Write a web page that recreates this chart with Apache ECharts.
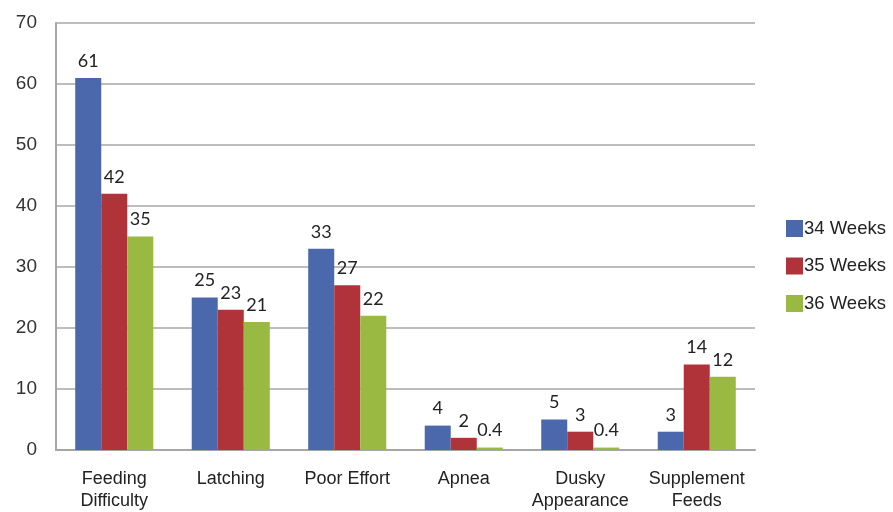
<!DOCTYPE html>
<html>
<head>
<meta charset="utf-8">
<script src="https://cdn.jsdelivr.net/npm/echarts@6/dist/echarts.min.js"></script>
<style>
  html, body { margin: 0; padding: 0; background: #fff; }
  #chart { width: 893px; height: 512px; }
</style>
</head>
<body>
<div id="chart"></div>
<script>
// Feeding problems by gestational age at birth
const categories = ['Feeding\nDifficulty', 'Latching', 'Poor Effort', 'Apnea', 'Dusky\nAppearance', 'Supplement\nFeeds'];
const seriesNames = ['34 Weeks', '35 Weeks', '36 Weeks'];
const weeks34 = [61, 25, 33, 4, 5, 3];
const weeks35 = [42, 23, 27, 2, 3, 14];
const weeks36 = [35, 21, 22, 0.4, 0.4, 12];
const colors = ['#4B68AD', '#AF3338', '#9AB943'];

const font = 'Liberation Sans, Arial, sans-serif';
const numFont = 'Lato, sans-serif';

const chart = echarts.init(document.getElementById('chart'));
chart.setOption({
  animation: false,
  backgroundColor: '#fff',
  grid: { left: 56, right: 138, top: 23, bottom: 62 },
  legend: {
    orient: 'vertical',
    left: 781,
    top: 214,
    itemWidth: 17,
    itemHeight: 17,
    itemGap: 18.5,
    icon: 'rect',
    textStyle: { fontFamily: font, fontSize: 18.5, color: '#222', padding: [0, 0, 0, -4] },
    data: seriesNames
  },
  xAxis: {
    type: 'category',
    data: categories,
    axisLine: { lineStyle: { color: '#A6A6A6', width: 2 } },
    axisTick: { show: false },
    axisLabel: { interval: 0, fontFamily: font, fontSize: 18, color: '#222', margin: 18, lineHeight: 22 }
  },
  yAxis: {
    type: 'value',
    min: 0,
    max: 70,
    interval: 10,
    axisLine: { show: true, lineStyle: { color: '#A6A6A6', width: 2 } },
    axisTick: { show: false },
    splitLine: { lineStyle: { color: '#BDBDBD', width: 2 } },
    axisLabel: { fontFamily: font, fontSize: 19, color: '#333', margin: 19 }
  },
  series: [weeks34, weeks35, weeks36].map((vals, i) => ({
    name: seriesNames[i],
    type: 'bar',
    data: vals,
    barGap: '0%',
    barCategoryGap: '33%',
    itemStyle: { color: colors[i] },
    label: {
      show: true,
      position: 'top',
      distance: 8,
      fontFamily: numFont,
      fontSize: 18,
      color: '#222'
    }
  }))
});
</script>
</body>
</html>
